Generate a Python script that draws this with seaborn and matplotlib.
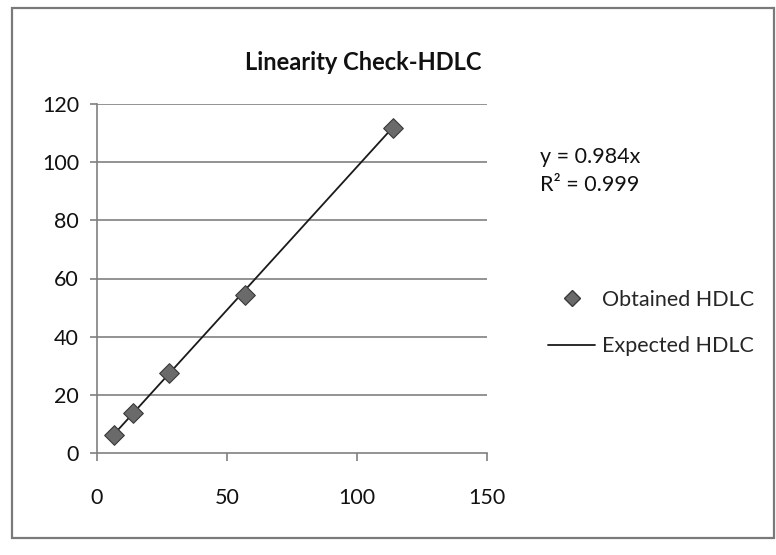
import matplotlib
matplotlib.use("Agg")
import matplotlib.pyplot as plt
import seaborn as sns
import pandas as pd
import numpy as np
from matplotlib.patches import Rectangle
from matplotlib.lines import Line2D

# Expected vs obtained HDLC for the dilution series
expected_hdlc = [6.6, 13.9, 27.8, 56.8, 113.7]
obtained_hdlc = [6.1, 13.9, 27.4, 54.4, 111.6]
slope = 0.984
r_squared = 0.999
x_ticks = [0, 50, 100, 150]
y_ticks = [0, 20, 40, 60, 80, 100, 120]

sns.set_theme(style="white")
plt.rcParams["font.family"] = ["Lato", "DejaVu Sans"]

df = pd.DataFrame({"expected": expected_hdlc, "obtained": obtained_hdlc})
fit_x = np.array([expected_hdlc[0], expected_hdlc[-1]])
fit_df = pd.DataFrame({"x": fit_x, "y": slope * fit_x})

fig = plt.figure(figsize=(7.76, 5.55), dpi=100)
fig.patch.set_facecolor("white")
# chart frame
fig.patches.append(Rectangle((12 / 776, 1 - 538 / 555), 762 / 776, 530 / 555,
                             transform=fig.transFigure, fill=False,
                             edgecolor="#7a7a7a", linewidth=1.6))

ax = fig.add_axes([97 / 776, 1 - 453 / 555, 390 / 776, 349 / 555])

sns.lineplot(data=fit_df, x="x", y="y", ax=ax, color="#1a1a1a", linewidth=1.3,
             zorder=3)
sns.scatterplot(data=df, x="expected", y="obtained", ax=ax, marker="D", s=100,
                color="#6a6a6a", edgecolor="#3a3a3a", linewidth=0.8, zorder=4)

ax.set_xlim(0, 150)
ax.set_ylim(0, 120)
ax.set_xticks(x_ticks)
ax.set_yticks(y_ticks)
ax.set_xlabel("")
ax.set_ylabel("")
for y in y_ticks[1:]:
    ax.axhline(y, color="#808080", linewidth=1.2, zorder=1)

for side in ["top", "right"]:
    ax.spines[side].set_visible(False)
for side in ["left", "bottom"]:
    ax.spines[side].set_color("#808080")
    ax.spines[side].set_linewidth(1.2)

ax.tick_params(axis="x", direction="out", length=6, width=1.2, color="#808080",
               pad=19, labelsize=15.5, labelcolor="#111111")
ax.tick_params(axis="y", direction="out", length=5, width=1.2, color="#808080",
               pad=8, labelsize=15.5, labelcolor="#111111")
ax.tick_params(bottom=True, left=True)

fig.text(363 / 776, 1 - 62 / 555, "Linearity Check-HDLC", ha="center",
         va="center", fontsize=17, fontweight="bold", color="#111111")

fig.text(540 / 776, 1 - 157 / 555, f"y = {slope}x", fontsize=15.5,
         va="center", color="#111111")
fig.text(540 / 776, 1 - 185 / 555, f"R² = {r_squared}", fontsize=15.5,
         va="center", color="#111111")

handles = [
    Line2D([], [], marker="D", linestyle="none", markersize=8,
           markerfacecolor="#6a6a6a", markeredgecolor="#3a3a3a"),
    Line2D([], [], color="#1a1a1a", linewidth=1.3),
]
fig.legend(handles, ["Obtained HDLC", "Expected HDLC"],
           loc="center left", bbox_to_anchor=(548 / 776, 1 - 323 / 555),
           frameon=False, fontsize=15.5, handlelength=2.2, handletextpad=0.33,
           labelspacing=1.25, borderaxespad=0, borderpad=0)

fig.savefig("out.png", dpi=100, facecolor="white")
